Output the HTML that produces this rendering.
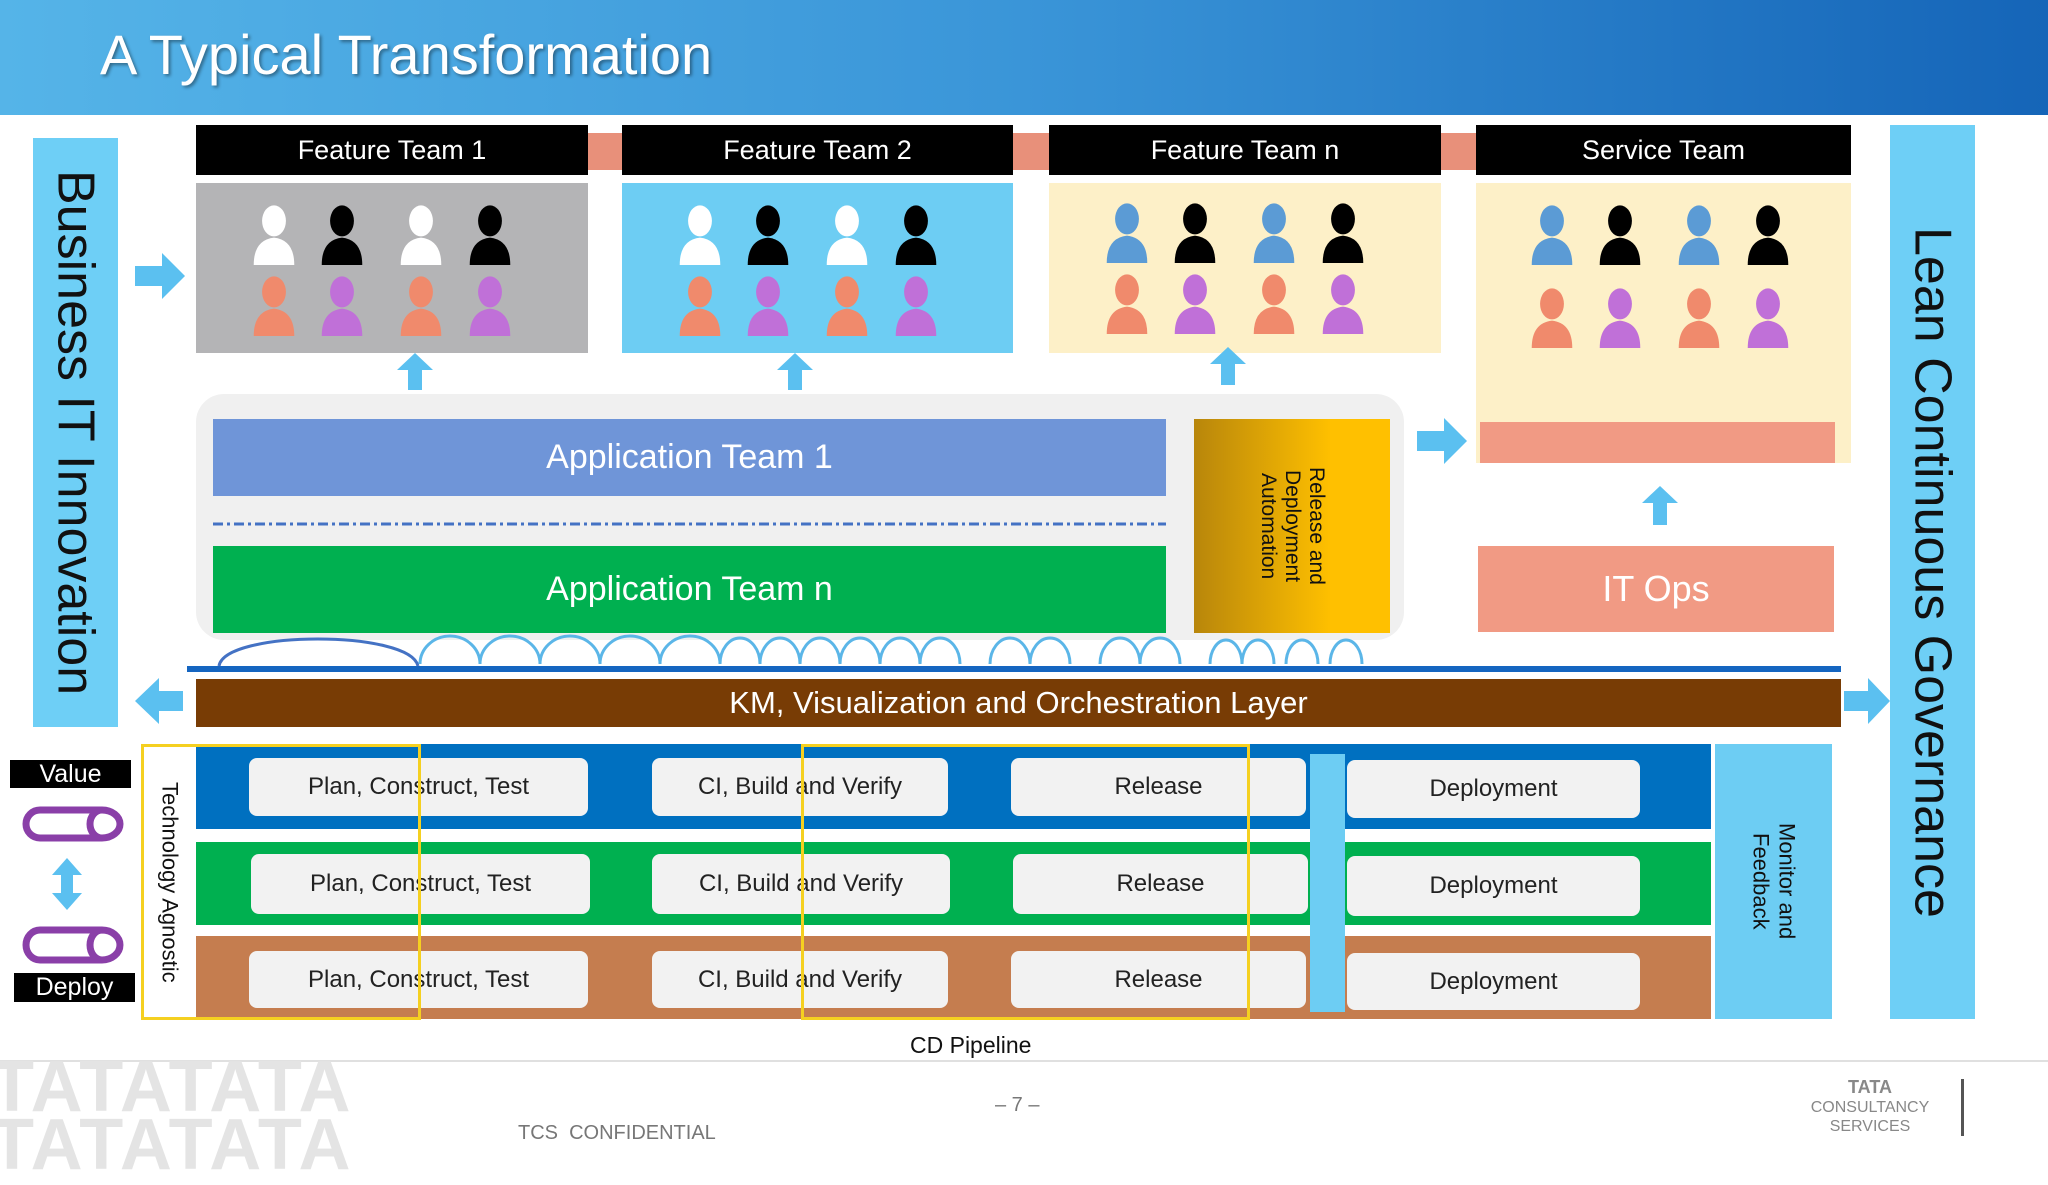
<!DOCTYPE html>
<html><head><meta charset="utf-8"><style>
*{margin:0;padding:0;box-sizing:border-box}
body{width:2048px;height:1152px;position:relative;background:#fff;font-family:"Liberation Sans",Arial,sans-serif;overflow:hidden}
.a{position:absolute}
.c{display:flex;align-items:center;justify-content:center;text-align:center}
.hdr{background:#000;color:#fff;font-size:27px;top:125px;height:50px}
.box{background:#f2f2f2;border-radius:8px;color:#222;font-size:24px}
.v{writing-mode:vertical-rl}
</style></head><body>
<div class="a" style="left:0;top:0;width:2048px;height:115px;background:linear-gradient(90deg,#55b4e8 0%,#3a95d8 50%,#1565b8 100%)"></div>
<div class="a" style="left:100px;top:22px;font-size:56px;color:#fff;text-shadow:2px 2px 3px rgba(0,0,0,.4)">A Typical Transformation</div>

<div class="a c v" style="left:33px;top:138px;width:85px;height:589px;background:#6ecff6;font-size:52px;color:#111">Business IT Innovation</div>
<div class="a c v" style="left:1890px;top:125px;width:85px;height:894px;background:#6ecff6;font-size:52px;color:#111">Lean Continuous Governance</div>

<div class="a" style="left:588px;top:133px;width:34px;height:37px;background:#e8907a"></div>
<div class="a" style="left:1013px;top:133px;width:36px;height:37px;background:#e8907a"></div>
<div class="a" style="left:1441px;top:133px;width:35px;height:37px;background:#e8907a"></div>

<div class="a c hdr" style="left:196px;width:392px">Feature Team 1</div>
<div class="a c hdr" style="left:622px;width:391px">Feature Team 2</div>
<div class="a c hdr" style="left:1049px;width:392px">Feature Team n</div>
<div class="a c hdr" style="left:1476px;width:375px">Service Team</div>

<div class="a" style="left:196px;top:183px;width:392px;height:170px;background:#b4b4b6"></div>
<div class="a" style="left:622px;top:183px;width:391px;height:170px;background:#6dcdf3"></div>
<div class="a" style="left:1049px;top:183px;width:392px;height:170px;background:#fdf0c8"></div>
<div class="a" style="left:1476px;top:183px;width:375px;height:280px;background:#fdf0c8"></div>
<div class="a" style="left:1480px;top:422px;width:355px;height:41px;background:#f19a84"></div>

<div class="a" style="left:196px;top:394px;width:1208px;height:246px;background:#f0f0f0;border-radius:28px"></div>
<div class="a c" style="left:213px;top:419px;width:953px;height:77px;background:#6f95d8;color:#fff;font-size:34px">Application Team 1</div>
<div class="a c" style="left:213px;top:546px;width:953px;height:87px;background:#00b050;color:#fff;font-size:34px">Application Team n</div>
<div class="a c v" style="left:1194px;top:419px;width:196px;height:214px;background:linear-gradient(90deg,#b8860b,#ffc000 70%,#ffc000);color:#111;font-size:21px;line-height:24px">Release and<br>Deployment<br>Automation</div>
<div class="a c" style="left:1478px;top:546px;width:356px;height:86px;background:#f19a84;color:#fff;font-size:36px">IT Ops</div>

<div class="a c" style="left:196px;top:679px;width:1645px;height:48px;background:#783c05;color:#fff;font-size:31px">KM, Visualization and Orchestration Layer</div>

<div class="a" style="left:196px;top:744px;width:1515px;height:85px;background:#0070c0"></div>
<div class="a" style="left:196px;top:842px;width:1515px;height:83px;background:#00b050"></div>
<div class="a" style="left:196px;top:936px;width:1515px;height:83px;background:#c57d4f"></div>
<div class="a" style="left:1310px;top:754px;width:35px;height:258px;background:#6dcdf3"></div>
<div class="a c v" style="left:1715px;top:744px;width:117px;height:275px;background:#6dcdf3;color:#111;font-size:22px;line-height:26px">Monitor and<br>Feedback</div>

<div class="a c box" style="left:249px;top:758px;width:339px;height:58px">Plan, Construct, Test</div>
<div class="a c box" style="left:652px;top:758px;width:296px;height:58px">CI, Build and Verify</div>
<div class="a c box" style="left:1011px;top:758px;width:295px;height:58px">Release</div>
<div class="a c box" style="left:1347px;top:760px;width:293px;height:58px">Deployment</div>
<div class="a c box" style="left:251px;top:854px;width:339px;height:60px">Plan, Construct, Test</div>
<div class="a c box" style="left:652px;top:854px;width:298px;height:60px">CI, Build and Verify</div>
<div class="a c box" style="left:1013px;top:854px;width:295px;height:60px">Release</div>
<div class="a c box" style="left:1347px;top:856px;width:293px;height:60px">Deployment</div>
<div class="a c box" style="left:249px;top:951px;width:339px;height:57px">Plan, Construct, Test</div>
<div class="a c box" style="left:652px;top:951px;width:296px;height:57px">CI, Build and Verify</div>
<div class="a c box" style="left:1011px;top:951px;width:295px;height:57px">Release</div>
<div class="a c box" style="left:1347px;top:953px;width:293px;height:57px">Deployment</div>

<div class="a c v" style="left:143px;top:745px;width:53px;height:274px;background:#fff;color:#111;font-size:22px">Technology Agnostic</div>
<div class="a" style="left:141px;top:744px;width:280px;height:276px;border:3px solid #f5d020"></div>
<div class="a" style="left:801px;top:744px;width:449px;height:276px;border:3px solid #f5d020"></div>

<div class="a c" style="left:10px;top:760px;width:121px;height:28px;background:#000;color:#fff;font-size:25px">Value</div>
<div class="a c" style="left:14px;top:973px;width:121px;height:29px;background:#000;color:#fff;font-size:25px">Deploy</div>

<div class="a" style="left:910px;top:1032px;font-size:23px;color:#111">CD Pipeline</div>
<div class="a" style="left:0;top:1060px;width:2048px;height:2px;background:#e0e0e0"></div>
<div class="a" style="left:-10px;top:1058px;font-size:72px;font-weight:bold;color:#e4e4e4;line-height:58px;letter-spacing:2px">TATATATA<br>TATATATA</div>
<div class="a" style="left:518px;top:1122px;font-size:20px;color:#777">TCS&nbsp; CONFIDENTIAL</div>
<div class="a" style="left:995px;top:1094px;font-size:20px;color:#777">– 7 –</div>
<div class="a" style="left:1790px;top:1078px;width:160px;text-align:center;font-size:16px;color:#888;line-height:19px"><b style="font-size:18px">TATA</b><br>CONSULTANCY<br>SERVICES</div>
<div class="a" style="left:1961px;top:1079px;width:3px;height:57px;background:#555"></div>

<svg class="a" style="left:0;top:0" width="2048" height="1152">
<defs>
<symbol id="p" viewBox="0 0 40 52"><ellipse cx="20" cy="15" rx="10" ry="13"/><path d="M3,52 Q3,31 20,29 Q37,31 37,52 Z"/></symbol>
</defs>
<g id="t1">
<use href="#p" x="248" y="203" width="52" height="62" fill="#fff"/><use href="#p" x="316" y="203" width="52" height="62" fill="#000"/><use href="#p" x="395" y="203" width="52" height="62" fill="#fff"/><use href="#p" x="464" y="203" width="52" height="62" fill="#000"/>
<use href="#p" x="248" y="274" width="52" height="62" fill="#f08a6c"/><use href="#p" x="316" y="274" width="52" height="62" fill="#c070d8"/><use href="#p" x="395" y="274" width="52" height="62" fill="#f08a6c"/><use href="#p" x="464" y="274" width="52" height="62" fill="#c070d8"/>
</g>
<use href="#t1" x="426"/>
<g>
<use href="#p" x="1101" y="201" width="52" height="62" fill="#5b9bd5"/><use href="#p" x="1169" y="201" width="52" height="62" fill="#000"/><use href="#p" x="1248" y="201" width="52" height="62" fill="#5b9bd5"/><use href="#p" x="1317" y="201" width="52" height="62" fill="#000"/>
<use href="#p" x="1101" y="272" width="52" height="62" fill="#f08a6c"/><use href="#p" x="1169" y="272" width="52" height="62" fill="#c070d8"/><use href="#p" x="1248" y="272" width="52" height="62" fill="#f08a6c"/><use href="#p" x="1317" y="272" width="52" height="62" fill="#c070d8"/>
</g>
<g transform="translate(425,2)">
<use href="#p" x="1101" y="201" width="52" height="62" fill="#5b9bd5"/><use href="#p" x="1169" y="201" width="52" height="62" fill="#000"/><use href="#p" x="1248" y="201" width="52" height="62" fill="#5b9bd5"/><use href="#p" x="1317" y="201" width="52" height="62" fill="#000"/>
<use href="#p" x="1101" y="284" width="52" height="62" fill="#f08a6c"/><use href="#p" x="1169" y="284" width="52" height="62" fill="#c070d8"/><use href="#p" x="1248" y="284" width="52" height="62" fill="#f08a6c"/><use href="#p" x="1317" y="284" width="52" height="62" fill="#c070d8"/>
</g>
<g fill="#5bc0f0">
<polygon points="415,353 433,370 422,370 422,390 408,390 408,370 397,370"/>
<polygon points="795,353 813,370 802,370 802,390 788,390 788,370 777,370"/>
<polygon points="1228,347 1246,364 1235,364 1235,385 1221,385 1221,364 1210,364"/>
<polygon points="1660,486 1678,503 1667,503 1667,525 1653,525 1653,503 1642,503"/>
<polygon points="135,266 162,266 162,253 185,276 162,299 162,286 135,286"/>
<polygon points="1417,431 1444,431 1444,418 1467,441 1444,464 1444,451 1417,451"/>
<polygon points="1844,691 1868,691 1868,678 1890,701 1868,724 1868,711 1844,711"/>
<polygon points="183,691 159,691 159,678 135,701 159,724 159,711 183,711"/>
<polygon points="67,858 82,875 73,875 73,893 82,893 67,910 52,893 61,893 61,875 52,875"/>
</g>
<line x1="213" y1="524" x2="1166" y2="524" stroke="#4472c4" stroke-width="3" stroke-dasharray="10 4 3 4"/>
<line x1="187" y1="669" x2="1841" y2="669" stroke="#1565c0" stroke-width="6"/>
<g fill="none" stroke-width="3">
<path d="M219,666 C225,630 410,630 418,666" stroke="#4472c4"/>
<path d="M420,664 a30,28 0 0 1 60,0 a30,28 0 0 1 60,0 a30,28 0 0 1 60,0 a30,28 0 0 1 60,0 a30,28 0 0 1 60,0 a20,26 0 0 1 40,0 a20,26 0 0 1 40,0 a20,26 0 0 1 40,0 a20,26 0 0 1 40,0 a20,26 0 0 1 40,0 a20,26 0 0 1 40,0 m30,0 a20,26 0 0 1 40,0 a20,26 0 0 1 40,0 m30,0 a20,26 0 0 1 40,0 a20,26 0 0 1 40,0 m30,0 a16,24 0 0 1 32,0 a16,24 0 0 1 32,0 m12,0 a16,24 0 0 1 32,0 m12,0 a16,24 0 0 1 32,0" stroke="#5bb6e8"/>
</g>
<g fill="none" stroke="#8a3fa8" stroke-width="7">
<path d="M40,810 h62 a18,14 0 0 1 0,28 h-62 a14,14 0 0 1 0,-28 Z M102,810 a12,14 0 0 0 0,28"/>
<path d="M40,930 h62 a18,15 0 0 1 0,30 h-62 a14,15 0 0 1 0,-30 Z M102,930 a12,15 0 0 0 0,30"/>
</g>
</svg>
</body></html>
